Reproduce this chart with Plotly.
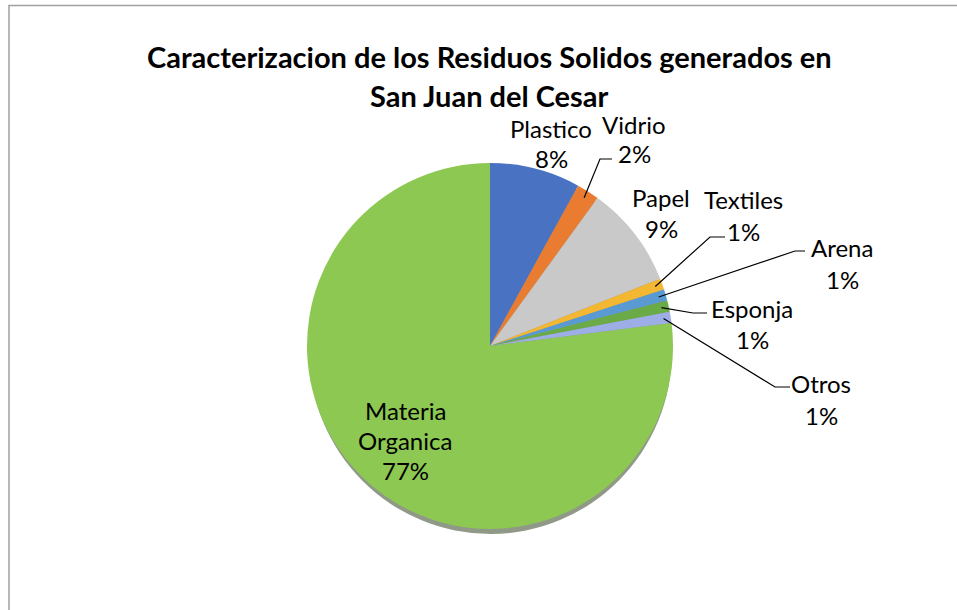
import math
import plotly.graph_objects as go

# ---- data ----
categories = ["Plastico", "Vidrio", "Papel", "Textiles", "Arena", "Esponja", "Otros", "Materia Organica"]
values = [8, 2, 9, 1, 1, 1, 1, 77]
colors = ["#4A72C2", "#E97C30", "#C9C9C9", "#F4B731", "#5A9AD3", "#6AAB47", "#9DAEE6", "#8DC852"]
title_lines = ["Caracterizacion de los Residuos Solidos generados en", "San Juan del Cesar"]

# ---- layout constants (pixels) ----
W, H = 957, 610
CX, CY, R = 490, 346, 183
FONT = "Lato"
LABEL_SIZE = 24
TITLE_SIZE = 29


def px(x):
    return x / W


def py(y):
    return 1 - y / H


fig = go.Figure(
    go.Pie(
        labels=categories,
        values=values,
        sort=False,
        direction="clockwise",
        rotation=0,
        marker=dict(colors=colors, line=dict(width=0)),
        textinfo="none",
        hoverinfo="label+percent",
        domain=dict(x=[px(CX - R), px(CX + R)], y=[py(CY + R), py(CY - R)]),
        showlegend=False,
    )
)

total = sum(values)
pcts = [round(v / total * 100) for v in values]

# label placement: name center (x, y), percent offset, leader elbow & end
label_pos = {
    "Plastico": (551, 128, 30, None),
    "Vidrio": (634, 124, 30, ((600, 159), (612, 159))),
    "Papel": (661, 197, 31, None),
    "Textiles": (743, 200, 32, ((710, 237), (725, 237))),
    "Arena": (842, 247, 32, ((795, 251), (805, 251))),
    "Esponja": (752, 308, 32, ((693, 313), (707, 313))),
    "Otros": (821, 383, 32, ((775, 387), (790, 387))),
}

annotations = []
shapes = []

# title (two centred lines)
for txt, y in zip(title_lines, (57, 95)):
    annotations.append(dict(x=px(489), y=py(y), xref="paper", yref="paper", text=f"<b>{txt}</b>",
                            showarrow=False, xanchor="center", yanchor="middle",
                            font=dict(family=FONT, size=TITLE_SIZE, color="#000000")))

# shadow under pie
shapes.append(dict(type="circle", xref="paper", yref="paper", layer="below",
                   x0=px(CX - R + 2), x1=px(CX + R - 1), y0=py(CY + R + 5), y1=py(CY - R + 5),
                   fillcolor="rgba(70,85,55,0.6)", line=dict(width=0)))

# chart frame
shapes.append(dict(type="rect", xref="paper", yref="paper", x0=px(9), x1=px(962), y0=py(616), y1=py(5.5),
                   line=dict(color="#A0A0A0", width=1.5), fillcolor="rgba(0,0,0,0)", layer="below"))

cum = 0.0
for cat, v, p in zip(categories, values, pcts):
    mid = (cum + v / 2) / total * 2 * math.pi
    cum += v
    if cat == "Materia Organica":
        for txt, y in (("Materia", 410), ("Organica", 440), (f"{p}%", 471)):
            annotations.append(dict(x=px(405), y=py(y), xref="paper", yref="paper", text=txt,
                                    showarrow=False, xanchor="center", yanchor="middle",
                                    font=dict(family=FONT, size=LABEL_SIZE, color="#000000")))
        continue
    lx, ly, dy, leader = label_pos[cat]
    annotations.append(dict(x=px(lx), y=py(ly), xref="paper", yref="paper", text=cat,
                            showarrow=False, xanchor="center", yanchor="middle",
                            font=dict(family=FONT, size=LABEL_SIZE, color="#000000")))
    annotations.append(dict(x=px(lx), y=py(ly + dy), xref="paper", yref="paper", text=f"{p}%",
                            showarrow=False, xanchor="center", yanchor="middle",
                            font=dict(family=FONT, size=LABEL_SIZE, color="#000000")))
    if leader:
        r0 = R * 0.96
        sx = CX + r0 * math.sin(mid)
        sy = CY - r0 * math.cos(mid)
        (ex, ey), (fx, fy) = leader
        path = f"M {px(sx)} {py(sy)} L {px(ex)} {py(ey)} L {px(fx)} {py(fy)}"
        shapes.append(dict(type="path", xref="paper", yref="paper", path=path,
                           line=dict(color="#000000", width=1.2)))

fig.update_layout(
    width=W,
    height=H,
    margin=dict(l=0, r=0, t=0, b=0),
    paper_bgcolor="#FFFFFF",
    plot_bgcolor="#FFFFFF",
    annotations=annotations,
    shapes=shapes,
)

fig.write_html("out.html")
